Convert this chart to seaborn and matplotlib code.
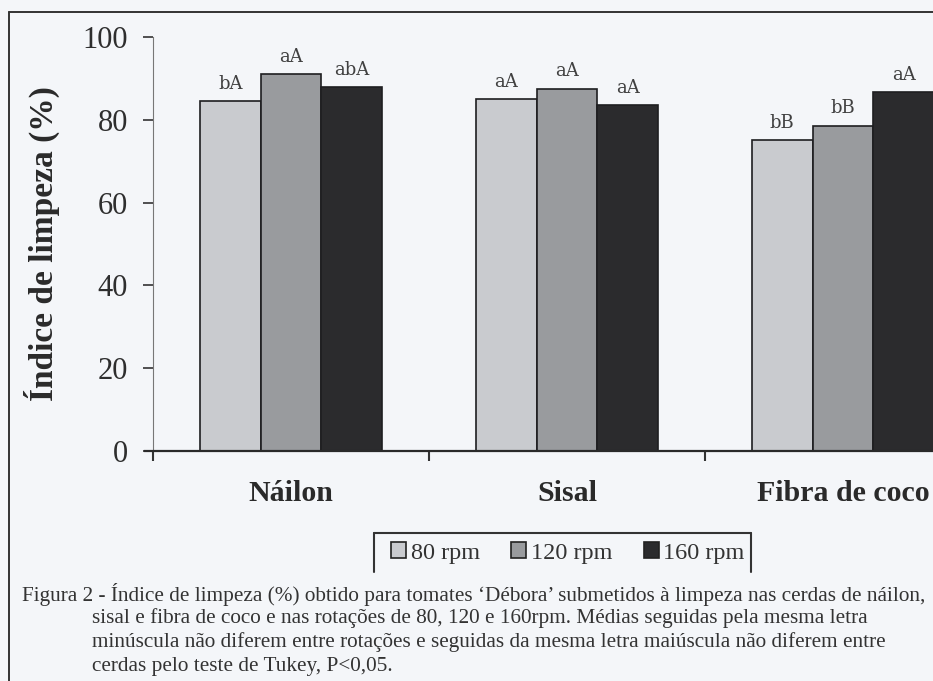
import matplotlib
matplotlib.use("Agg")
import matplotlib.pyplot as plt
from matplotlib.lines import Line2D
import seaborn as sns
import pandas as pd

# ---- data ----
cerdas = ["Náilon", "Sisal", "Fibra de coco"]
rotacoes = ["80 rpm", "120 rpm", "160 rpm"]
indice_80 = [84.5, 85.0, 75.1]
indice_120 = [91.1, 87.5, 78.6]
indice_160 = [87.9, 83.5, 86.6]
letras_80 = ["bA", "aA", "bB"]
letras_120 = ["aA", "aA", "bB"]
letras_160 = ["abA", "aA", "aA"]
y_ticks = [0, 20, 40, 60, 80, 100]
caption_lines = [
    "Figura 2 - Índice de limpeza (%) obtido para tomates ‘Débora’ submetidos à limpeza nas cerdas de náilon,",
    "sisal e fibra de coco e nas rotações de 80, 120 e 160rpm. Médias seguidas pela mesma letra",
    "minúscula não diferem entre rotações e seguidas da mesma letra maiúscula não diferem entre",
    "cerdas pelo teste de Tukey, P<0,05.",
]

df = pd.DataFrame({
    "Cerda": cerdas * 3,
    "Rotação": [r for r in rotacoes for _ in cerdas],
    "Índice": indice_80 + indice_120 + indice_160,
})
letras = [letras_80, letras_120, letras_160]

sns.set_style("ticks")
plt.rcParams["font.family"] = ["Liberation Serif", "DejaVu Serif"]

bg = "#f4f6f9"
W, H = 933, 681
fig = plt.figure(figsize=(W / 100, H / 100), dpi=100, facecolor=bg)
ax = fig.add_axes([153 / W, 1 - 451 / H, (981 - 153) / W, (451 - 37) / H])
ax.set_facecolor(bg)

palette = ["#c9cbcf", "#999b9e", "#2b2b2d"]
sns.barplot(data=df, x="Cerda", y="Índice", hue="Rotação", order=cerdas,
            hue_order=rotacoes, palette=palette, width=0.66, gap=0,
            edgecolor="#1e1e20", linewidth=1.2, saturation=1, ax=ax)

# significance letters
for cont, labs in zip(ax.containers, letras):
    for bar, lab in zip(cont, labs):
        ax.text(bar.get_x() + bar.get_width() / 2, bar.get_height() + 2.0, lab,
                ha="center", va="bottom", fontsize=13, color="#404040",
                family=["DejaVu Serif"])

ax.set_xlim(-0.5, 2.5)
ax.set_ylim(0, 100)
ax.set_yticks(y_ticks)
ax.tick_params(axis="y", direction="out", length=7, width=1.2, pad=11,
               labelsize=22, labelcolor="#2e2e2e", color="#333333")
# boundary ticks (major) and category labels (minor)
ax.set_xticks([-0.5, 0.5, 1.5, 2.5])
ax.set_xticklabels([])
ax.set_xticks([0, 1, 2], minor=True)
ax.set_xticklabels(cerdas, minor=True, fontsize=21.5, fontweight="bold",
                   color="#2a2a2a")
ax.tick_params(axis="x", which="major", direction="out", length=7, width=1.5,
               color="#333333")
ax.tick_params(axis="x", which="minor", length=0, pad=21)
ax.set_xlabel("")
ax.set_ylabel("Índice de limpeza (%)", fontsize=24, fontweight="bold",
              color="#2a2a2a")
ax.yaxis.set_label_coords(-0.112, 0.5)

for s in ["top", "right"]:
    ax.spines[s].set_visible(False)
ax.spines["left"].set_color("#777777")
ax.spines["left"].set_linewidth(0.8)
ax.spines["bottom"].set_color("#2a2a2a")
ax.spines["bottom"].set_linewidth(1.6)
ax.spines["bottom"].set_bounds(-0.53, 2.5)

# legend
handles, labels = ax.get_legend_handles_labels()
leg = ax.legend(handles, labels, loc="center", ncol=3, frameon=False,
                bbox_to_anchor=(568 / W, 1 - 553 / H),
                bbox_transform=fig.transFigure, fontsize=17.5,
                handlelength=0.6, handleheight=0.6, handletextpad=0.2,
                columnspacing=1.3, labelcolor="#333333")
for h in leg.legend_handles:
    h.set_edgecolor("#222222")
    h.set_linewidth(1.2)

# legend box (open at bottom)
def fig_line(xs, ys, lw=1.5, color="#333333"):
    fig.add_artist(Line2D([x / W for x in xs], [1 - y / H for y in ys],
                          transform=fig.transFigure, color=color, lw=lw))

fig_line([374, 751], [533, 533])
fig_line([374, 374], [533, 572])
fig_line([751, 751], [533, 572])

# outer frame
fig_line([9, W + 5], [12, 12], lw=1.4)
fig_line([9, 9], [12, H + 5], lw=1.4)

# caption
cap_x = [22, 92, 92, 92]
cap_y = [594, 618, 642, 666]
for x, y, line in zip(cap_x, cap_y, caption_lines):
    fig.text(x / W, 1 - y / H, line, ha="left", va="center", fontsize=15.3,
             color="#333333")

fig.savefig("out.png", dpi=100, facecolor=bg)
